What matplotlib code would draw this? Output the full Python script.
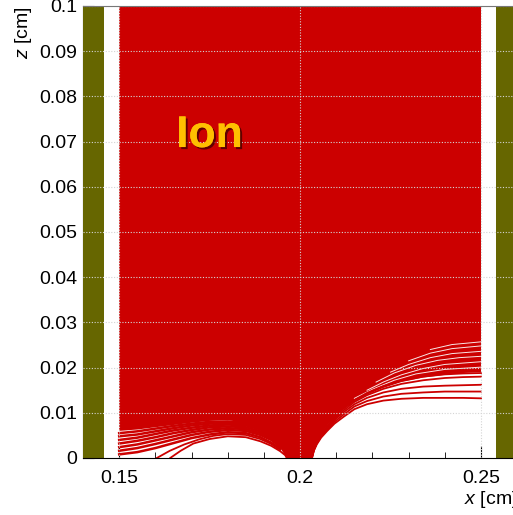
import matplotlib
matplotlib.use("Agg")
import matplotlib.pyplot as plt
import matplotlib.patheffects as pe
from matplotlib.ticker import MultipleLocator

plt.rcParams['font.family'] = ['Liberation Sans', 'DejaVu Sans']
plt.rcParams['mathtext.fontset'] = 'custom'
plt.rcParams['mathtext.it'] = 'Liberation Sans:italic'
plt.rcParams['mathtext.rm'] = 'Liberation Sans'

# electrode strips (x ranges, cm)
strip_x0 = [0.14, 0.2541]
strip_x1 = [0.1458, 0.26]

# drift region filled by ion tracks
drift_x = [0.15, 0.25]
drift_top = 0.1

# lower edge of the solid red on the left
el_x = [0.15, 0.155, 0.16, 0.165, 0.17, 0.175, 0.18, 0.185, 0.189, 0.1917, 0.1945, 0.1963]
el_z = [0.0060, 0.0063, 0.0068, 0.0073, 0.0078, 0.0082, 0.0084, 0.0077, 0.0062, 0.0045, 0.0022, 0.0]

# lower edge of the solid red on the right
er_x = [0.2033, 0.2038, 0.2046, 0.2058, 0.2075, 0.2095, 0.212, 0.215, 0.2185, 0.223, 0.228, 0.234, 0.24, 0.245, 0.25]
er_z = [0.0, 0.0019, 0.0036, 0.0053, 0.0072, 0.0090, 0.0108, 0.0125, 0.0140, 0.0155, 0.0168, 0.0178, 0.0184, 0.0188, 0.0190]

# single ion tracks on the left
xl = [0.15, 0.155, 0.16, 0.165, 0.17, 0.175, 0.18, 0.185, 0.189, 0.192, 0.1945]
tracks_l = [
    [0.0008, 0.0013, 0.0022, 0.0033, 0.0044, 0.0052, 0.0057, 0.0055, 0.0046, 0.0034, 0.0021],
    [0.0016, 0.0022, 0.0031, 0.0041, 0.0051, 0.0058, 0.0062, 0.0060, 0.0051, 0.0040, 0.0025],
    [0.0024, 0.0030, 0.0039, 0.0048, 0.0057, 0.0063, 0.0066, 0.0064, 0.0055, 0.0044, 0.0029],
    [0.0032, 0.0038, 0.0046, 0.0055, 0.0062, 0.0068, 0.0070, 0.0068, 0.0059, 0.0048, 0.0033],
    [0.0040, 0.0045, 0.0053, 0.0061, 0.0067, 0.0072, 0.0074, 0.0072, 0.0063, 0.0052, 0.0037],
    [0.0048, 0.0052, 0.0059, 0.0066, 0.0072, 0.0076, 0.0078, 0.0075, 0.0066, 0.0056, 0.0040],
    [0.0055, 0.0059, 0.0065, 0.0071, 0.0076, 0.0080, 0.0081, 0.0078, 0.0069, 0.0059, 0.0043],
]
# tracks rising from the floor over the dome
dome_x = [0.1641, 0.167, 0.1705, 0.175, 0.18, 0.185, 0.189, 0.192, 0.1945, 0.1959, 0.1963]
dome_z = [0.0, 0.0016, 0.0032, 0.0042, 0.0048, 0.0046, 0.0037, 0.0027, 0.0015, 0.0006, 0.0]
floor_x = [0.1604, 0.164, 0.168, 0.172, 0.176, 0.18, 0.185, 0.189, 0.192, 0.1945]
floor_z = [0.0, 0.0016, 0.0030, 0.0041, 0.0049, 0.0053, 0.0051, 0.0042, 0.0031, 0.0018]

# single ion tracks on the right
xr = [0.2033, 0.2038, 0.2046, 0.2058, 0.2075, 0.2095, 0.212, 0.215, 0.2185, 0.223, 0.228, 0.234, 0.24, 0.245, 0.25]
tracks_r = [
    [0.0000, 0.0016, 0.0030, 0.0045, 0.0060, 0.0076, 0.0091, 0.0108, 0.0119, 0.0127, 0.0131, 0.0133, 0.0133, 0.0133, 0.0132],
    [0.0001, 0.0017, 0.0032, 0.0047, 0.0063, 0.0080, 0.0096, 0.0114, 0.0126, 0.0136, 0.0142, 0.0145, 0.0147, 0.0147, 0.0147],
    [0.0002, 0.0018, 0.0034, 0.0049, 0.0066, 0.0084, 0.0101, 0.0119, 0.0133, 0.0145, 0.0153, 0.0158, 0.0160, 0.0161, 0.0162],
    [0.0003, 0.0019, 0.0035, 0.0051, 0.0069, 0.0087, 0.0105, 0.0124, 0.0139, 0.0153, 0.0164, 0.0172, 0.0177, 0.0179, 0.0180],
    [0.0004, 0.0020, 0.0036, 0.0053, 0.0071, 0.0090, 0.0109, 0.0128, 0.0144, 0.0159, 0.0171, 0.0180, 0.0185, 0.0187, 0.0188],
]
# thin gaps between dense tracks on the right
gaps_r = [
    ([0.215, 0.22, 0.226, 0.232, 0.24, 0.25], [0.0132, 0.0152, 0.0172, 0.0186, 0.0196, 0.0201]),
    ([0.2185, 0.223, 0.228, 0.234, 0.24, 0.25], [0.0150, 0.0168, 0.0184, 0.0198, 0.0207, 0.0213]),
    ([0.221, 0.226, 0.232, 0.238, 0.244, 0.25], [0.0168, 0.0188, 0.0205, 0.0216, 0.0222, 0.0225]),
    ([0.225, 0.23, 0.236, 0.242, 0.25], [0.0190, 0.0207, 0.0222, 0.0231, 0.0236]),
    ([0.23, 0.236, 0.242, 0.25], [0.0215, 0.0232, 0.0242, 0.0248]),
    ([0.236, 0.242, 0.25], [0.0240, 0.0251, 0.0257]),
]

xticks = [0.15, 0.2, 0.25]
xlabels = ['0.15', '0.2', '0.25']
yticks = [0.0, 0.01, 0.02, 0.03, 0.04, 0.05, 0.06, 0.07, 0.08, 0.09, 0.1]
ylabels = ['0', '0.01', '0.02', '0.03', '0.04', '0.05', '0.06', '0.07', '0.08', '0.09', '0.1']

red = '#cc0000'
olive = '#666600'

fig = plt.figure(figsize=(5.13, 5.15), dpi=100)
ax = fig.add_axes([83 / 513, 57 / 515, 434.2 / 513, 452 / 515])
ax.set_xlim(0.14, 0.26)
ax.set_ylim(0, 0.1)

# filled region polygon
px = [drift_x[0], drift_x[1]] + er_x[::-1] + el_x[::-1]
pz = [drift_top, drift_top] + er_z[::-1] + el_z[::-1]
ax.fill(px, pz, color=red, lw=0, zorder=3)

for xs, zs in gaps_r:
    ax.plot(xs, zs, color='white', lw=0.7, alpha=0.9, zorder=3.1)
for zs in tracks_l:
    ax.plot(xl, zs, color=red, lw=1.8, zorder=3.2)
ax.plot(dome_x, dome_z, color=red, lw=1.3, zorder=3.2)
ax.plot(floor_x, floor_z, color=red, lw=1.3, zorder=3.2)
for zs in tracks_r:
    ax.plot(xr, zs, color=red, lw=1.3, zorder=3.2)

for a, b in zip(strip_x0, strip_x1):
    ax.axvspan(a, b, color=olive, lw=0, zorder=3.3)

# grid on top
for xv in xticks:
    ax.axvline(xv, color='#d4d4d4', lw=0.8, ls=(0, (1, 1.5)), zorder=4)
for yv in yticks[1:]:
    ax.axhline(yv, color='#d4d4d4', lw=0.8, ls=(0, (1, 1.5)), zorder=4)

ax.set_xticks(xticks)
ax.set_xticklabels(xlabels)
ax.set_yticks(yticks)
ax.set_yticklabels(ylabels)
ax.xaxis.set_minor_locator(MultipleLocator(0.01))
ax.tick_params(axis='both', which='both', direction='in', labelsize=14, colors='black')
ax.tick_params(axis='x', which='major', length=9, pad=8.5)
ax.tick_params(axis='x', which='minor', length=4)
ax.tick_params(axis='y', which='major', length=8, pad=4.3)
for side in ['bottom', 'top']:
    ax.spines[side].set_zorder(6)
ax.spines['top'].set_color('#777777')
ax.spines['right'].set_visible(False)

ax.text(0.16575, 0.0688, 'Ion', color='#ffbf00', fontsize=32, fontweight='bold',
        ha='left', va='baseline', zorder=5,
        path_effects=[pe.withSimplePatchShadow(offset=(1.5, -1.5), shadow_rgbFace='#440000', alpha=0.8), pe.Normal()])

fig.text(517 / 513, 1 - 504 / 515, '$x$ [cm]', fontsize=14, ha='right', va='baseline')
fig.text(24 / 513, 1 - 6 / 515, '$z$ [cm]', fontsize=14, ha='center', va='top', rotation=90)

fig.savefig('out.png', dpi=100)
